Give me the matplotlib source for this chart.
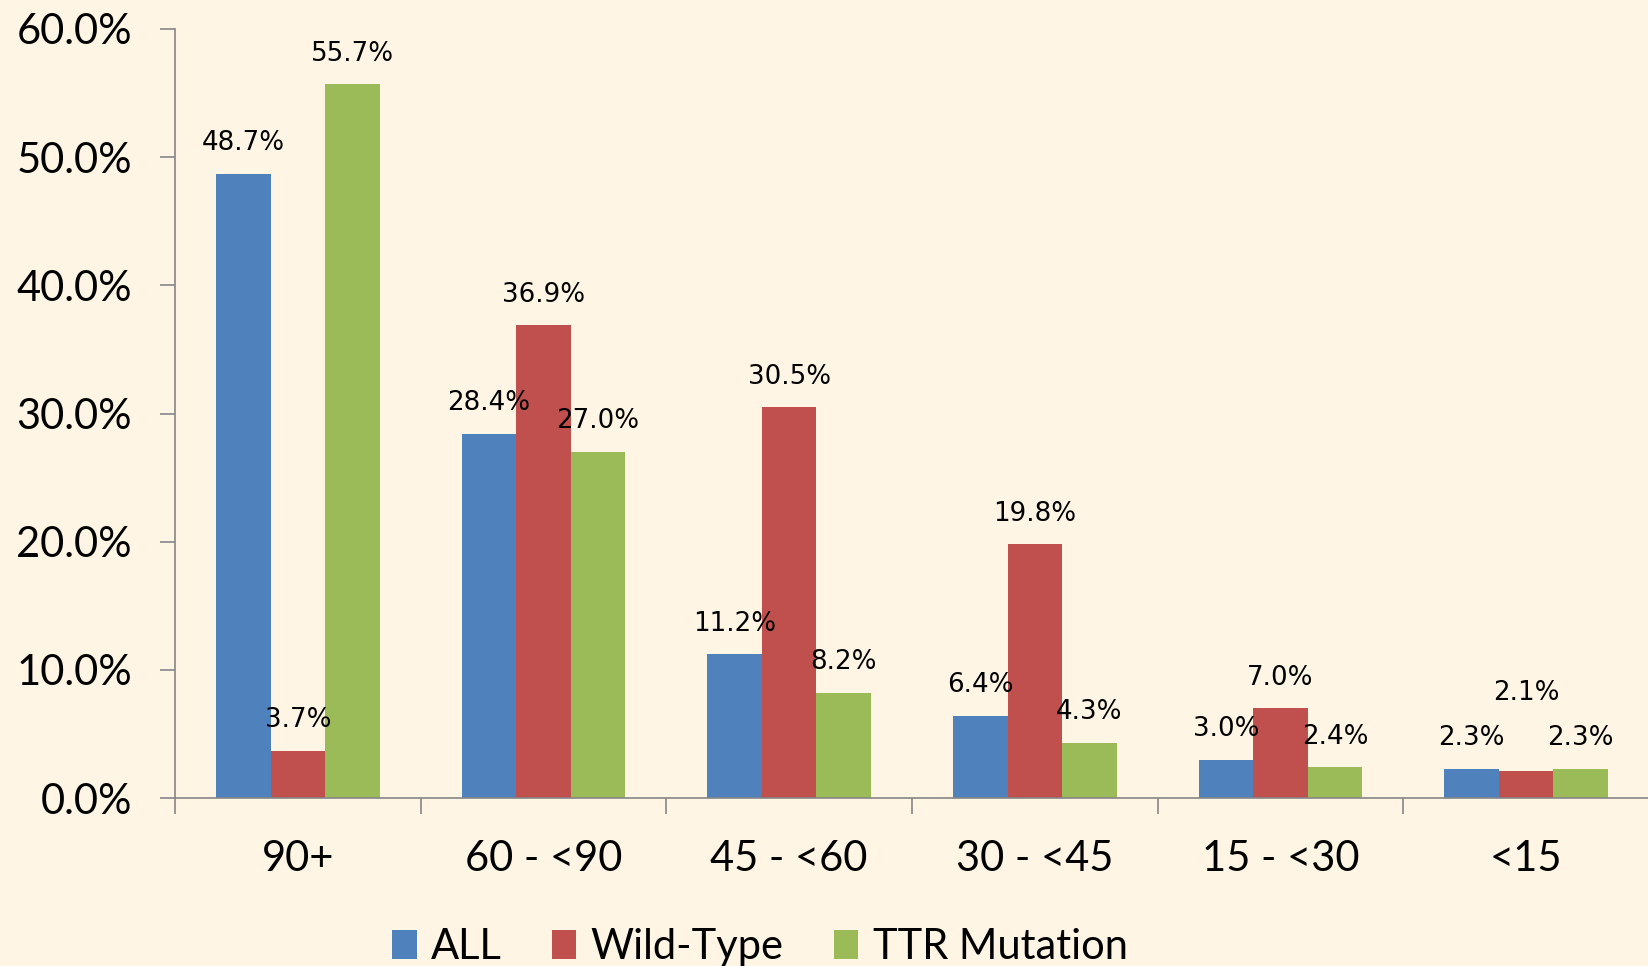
import matplotlib.pyplot as plt
import numpy as np

# dane
categories = ['90+', '60 - <90', '45 - <60', '30 - <45', '15 - <30', '<15']
all_vals = [48.7, 28.4, 11.2, 6.4, 3.0, 2.3]
wild_type = [3.7, 36.9, 30.5, 19.8, 7.0, 2.1]
ttr_mutation = [55.7, 27.0, 8.2, 4.3, 2.4, 2.3]
series_names = ['ALL', 'Wild-Type', 'TTR Mutation']

colors = ['#4F81BD', '#C0504D', '#9BBB59']
bg = '#FEF5E4'
axis_gray = '#868686'

fig = plt.figure(figsize=(16.49, 9.66), dpi=100, facecolor=bg)
ax = fig.add_axes([175 / 1649, 1 - 798 / 966, 1 - 175 / 1649, (798 - 29) / 966])
ax.set_facecolor(bg)

x = np.arange(len(categories))
w = 0.222
for i, (vals, name) in enumerate(zip([all_vals, wild_type, ttr_mutation], series_names)):
    pos = x + (i - 1) * w
    ax.bar(pos, vals, width=w, color=colors[i], label=name, zorder=2)
    for j, (px, v) in enumerate(zip(pos, vals)):
        # etykieta 2.1% przesunieta wyzej jak w oryginale
        off = 56 if (i == 1 and j == 5) else 22
        ax.annotate('{:.1f}%'.format(v), (px, v), xytext=(0, off),
                    textcoords='offset points', ha='center', va='center',
                    fontsize=18.8, family='DejaVu Sans', color='black')

ax.set_xlim(-0.5, len(categories) - 0.5)
ax.set_ylim(0, 60)
ax.set_yticks(np.arange(0, 61, 10))
ax.set_yticklabels(['{:.1f}%'.format(t) for t in np.arange(0, 61, 10)])
ax.set_xticks(x)
ax.set_xticklabels(categories)
ax.set_xticks(np.arange(-0.5, len(categories) - 0.5, 1), minor=True)

for s in ['top', 'right']:
    ax.spines[s].set_visible(False)
for s in ['left', 'bottom']:
    ax.spines[s].set_color(axis_gray)
    ax.spines[s].set_linewidth(1.2)

ax.tick_params(axis='y', length=11, width=1.2, color=axis_gray, pad=20,
               labelsize=30)
ax.tick_params(axis='x', which='major', length=0, pad=30, labelsize=30)
ax.tick_params(axis='x', which='minor', length=11.5, width=1.2, color=axis_gray)
for lab in ax.get_xticklabels() + ax.get_yticklabels():
    lab.set_family('Lato')

leg = fig.legend(loc='center', bbox_to_anchor=(760 / 1649, 1 - 947 / 966),
                 ncol=3, frameon=False, prop={'family': 'Lato', 'size': 30},
                 handlelength=0.58, handleheight=0.67, handletextpad=0.35,
                 columnspacing=1.2, borderpad=0)

fig.savefig('out.png', dpi=100, facecolor=bg)
